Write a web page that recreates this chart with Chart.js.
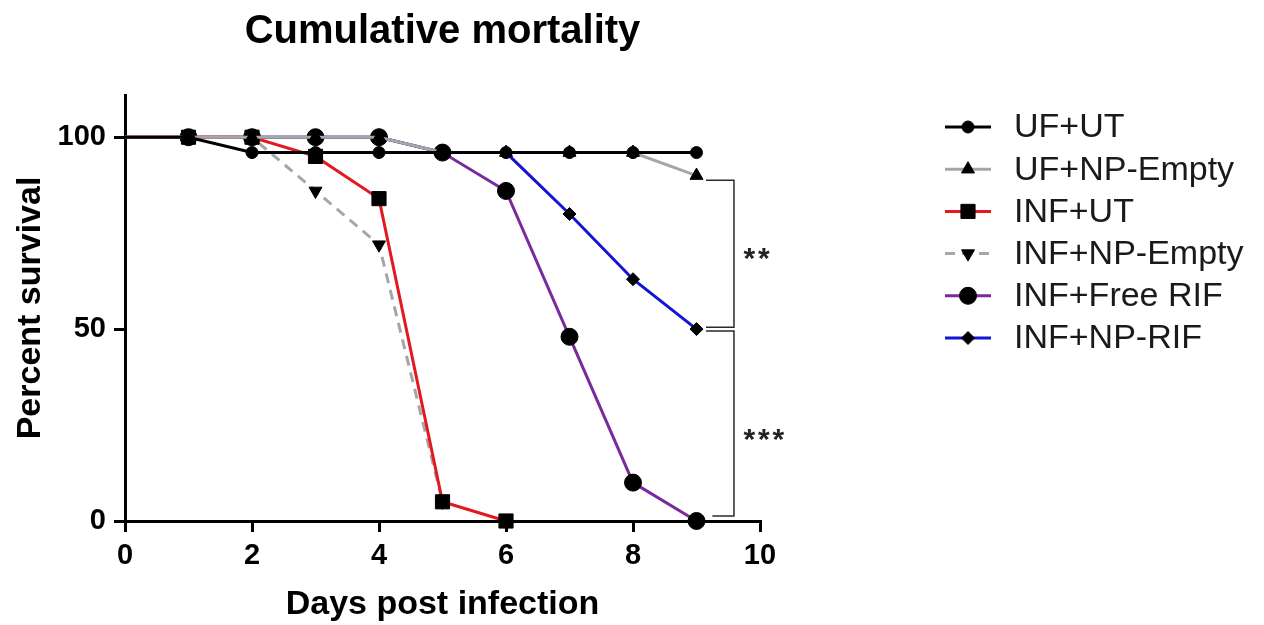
<!DOCTYPE html>
<html>
<head>
<meta charset="utf-8">
<title>Cumulative mortality</title>
<script src="https://cdn.jsdelivr.net/npm/chart.js@4/dist/chart.umd.min.js"></script>
<style>
  html, body { margin: 0; padding: 0; background: #fff; }
  #wrap { width: 1264px; height: 625px; }
</style>
</head>
<body>
<div id="wrap"><canvas id="survivalChart" width="1264" height="625"></canvas></div>
<script>
    // Days post infection
    const days = [0, 1, 2, 3, 4, 5, 6, 7, 8, 9];

    // Percent survival per group
    const ufUt       = [100, 100, 96, 96, 96, 96, 96, 96, 96, 96];
    const ufNpEmpty  = [100, 100, 100, 100, 100, 96, 96, 96, 96, 90];
    const infUt      = [100, 100, 100, 95, 84, 5, 0];
    const infNpEmpty = [100, 100, 100, 86, 72, 5];
    const infFreeRif = [100, 100, 100, 100, 100, 96, 86, 48, 10, 0];
    const infNpRif   = [100, 100, 100, 100, 100, 96, 96, 80, 63, 50];

    const groupNames = ['UF+UT', 'UF+NP-Empty', 'INF+UT', 'INF+NP-Empty', 'INF+Free RIF', 'INF+NP-RIF'];
    const xTicks = [0, 2, 4, 6, 8, 10];
    const yTicks = [0, 50, 100];
    const starCounts = [2, 3];

    const FONT = "'Liberation Sans', Arial, Helvetica, sans-serif";

    function toPoints(values) {
        return values.map((v, i) => ({ x: days[i], y: v }));
    }

    // no marker at day 0 (it sits on the axis in the original)
    function radii(values, r) {
        return values.map((_, i) => i === 0 ? 0 : r);
    }

    function makeSet(label, values, color, style, r, extra) {
        return Object.assign({
            label: label,
            data: toPoints(values),
            borderColor: color,
            backgroundColor: color,
            borderWidth: 3,
            pointStyle: style,
            pointRadius: radii(values, r),
            pointBackgroundColor: '#000',
            pointBorderColor: '#000',
            pointBorderWidth: 1,
            legendRadius: r,
            tension: 0,
            fill: false,
            clip: false
        }, extra || {});
    }

    const datasets = [
        makeSet(groupNames[0], ufUt, '#000000', 'circle', 6, { order: 0 }),
        makeSet(groupNames[1], ufNpEmpty, '#a6a6a6', 'triangle', 7.5, { order: 1 }),
        makeSet(groupNames[2], infUt, '#e3191f', 'rect', 10, { order: 2 }),
        makeSet(groupNames[3], infNpEmpty, '#a6a6a6', 'triangle', 7.5, { order: 3, borderDash: [10, 7], pointRotation: 180 }),
        makeSet(groupNames[4], infFreeRif, '#7a2a9c', 'circle', 8.5, { order: 4 }),
        makeSet(groupNames[5], infNpRif, '#1414d2', 'rectRot', 6.5, { order: 5 })
    ];

    // legend on the right: line sample + marker + name
    const sideLegend = {
        id: 'sideLegend',
        afterDraw(chart) {
            const ctx = chart.ctx;
            ctx.save();
            chart.data.datasets.forEach((ds, i) => {
                const y = 127 + i * 42.2;
                ctx.strokeStyle = ds.borderColor;
                ctx.lineWidth = 3;
                ctx.setLineDash(ds.borderDash || []);
                ctx.beginPath();
                ctx.moveTo(945, y);
                ctx.lineTo(991, y);
                ctx.stroke();
                ctx.setLineDash([]);
                ctx.fillStyle = '#000';
                ctx.strokeStyle = '#000';
                ctx.lineWidth = 1;
                Chart.helpers.drawPoint(ctx, {
                    pointStyle: ds.pointStyle,
                    radius: ds.legendRadius,
                    rotation: ds.pointRotation || 0,
                    borderWidth: 1
                }, 968, y);
                ctx.fillStyle = '#1a1a1a';
                ctx.font = '34px ' + FONT;
                ctx.textAlign = 'left';
                ctx.textBaseline = 'middle';
                ctx.fillText(ds.label, 1014, y + 1);
            });
            ctx.restore();
        }
    };

    // significance brackets next to the day-9 points
    const brackets = {
        id: 'brackets',
        afterDraw(chart) {
            const { ctx, scales } = chart;
            const xs = scales.x, ys = scales.y;
            const x0 = xs.getPixelForValue(9.15);
            const x0b = xs.getPixelForValue(9.25);
            const x1 = xs.getPixelForValue(9.59);
            const tx = xs.getPixelForValue(9.74);
            const spans = [
                { top: 88.8, bottom: 50.5, start: x0, mid: 70.3 },
                { top: 49.5, bottom: 1.3, start: x0b, mid: 23.2 }
            ];
            ctx.save();
            ctx.strokeStyle = '#2a2a2a';
            ctx.lineWidth = 1.5;
            spans.forEach((s, i) => {
                ctx.beginPath();
                ctx.moveTo(x0, ys.getPixelForValue(s.top));
                ctx.lineTo(x1, ys.getPixelForValue(s.top));
                ctx.lineTo(x1, ys.getPixelForValue(s.bottom));
                ctx.lineTo(s.start, ys.getPixelForValue(s.bottom));
                ctx.stroke();
                ctx.fillStyle = '#222';
                ctx.font = 'bold 30px ' + FONT;
                ctx.textAlign = 'left';
                ctx.textBaseline = 'alphabetic';
                for (let k = 0; k < starCounts[i]; k++) {
                    ctx.fillText('*', tx + k * 14.5, ys.getPixelForValue(s.mid) + 17);
                }
            });
            ctx.restore();
        }
    };

    const ctx = document.getElementById('survivalChart').getContext('2d');
    const chart = new Chart(ctx, {
        type: 'line',
        data: { datasets: datasets },
        plugins: [sideLegend, brackets],
        options: {
            responsive: false,
            animation: false,
            events: [],
            layout: { padding: { left: 0, right: 504, top: 0, bottom: 0 } },
            plugins: {
                legend: { display: false },
                tooltip: { enabled: false },
                title: {
                    display: true,
                    text: 'Cumulative mortality',
                    fullSize: false,
                    color: '#000',
                    font: { family: FONT, size: 40, weight: 'bold', lineHeight: 1.2 },
                    padding: { top: 8, bottom: 39 }
                }
            },
            scales: {
                x: {
                    type: 'linear',
                    min: 0,
                    max: 10,
                    afterBuildTicks: (scale) => { scale.ticks = xTicks.map(v => ({ value: v })); },
                    afterFit: (scale) => { scale.height = 104; },
                    grid: { drawOnChartArea: false, drawTicks: true, tickLength: 11, color: '#000', lineWidth: 3 },
                    border: { display: true, color: '#000', width: 3 },
                    ticks: { color: '#000', padding: 7, font: { family: FONT, size: 29, weight: 'bold' } },
                    title: {
                        display: true,
                        text: 'Days post infection',
                        color: '#000',
                        font: { family: FONT, size: 34, weight: 'bold' },
                        padding: { top: 0, bottom: 0 }
                    }
                },
                y: {
                    min: 0,
                    max: 111,
                    afterBuildTicks: (scale) => { scale.ticks = yTicks.map(v => ({ value: v })); },
                    afterFit: (scale) => { scale.width = 125; },
                    grid: { drawOnChartArea: false, drawTicks: true, tickLength: 11, color: '#000', lineWidth: 3 },
                    border: { display: true, color: '#000', width: 3 },
                    ticks: { color: '#000', padding: 8, font: { family: FONT, size: 29, weight: 'bold' } },
                    title: {
                        display: true,
                        text: 'Percent survival',
                        color: '#000',
                        font: { family: FONT, size: 34, weight: 'bold' },
                        padding: { top: 10, bottom: 0 }
                    }
                }
            }
        }
    });
</script>
</body>
</html>
